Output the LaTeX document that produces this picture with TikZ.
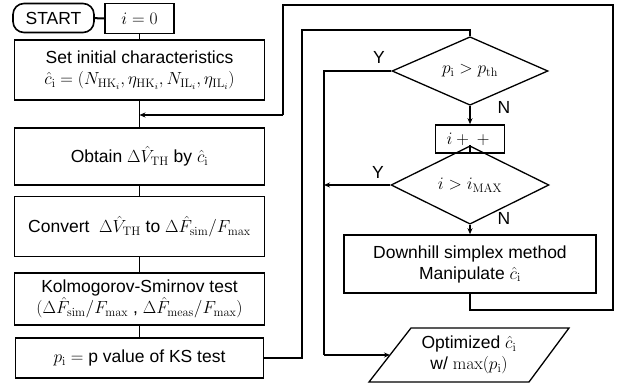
\documentclass[tikz,border=0pt]{standalone}
\usepackage{fix-cm}
\usepackage[no-math]{fontspec}
\setmainfont{Liberation Sans}
\usetikzlibrary{shapes.geometric,arrows.meta}

\tikzset{
  base/.style={draw, line width=1.6pt, inner sep=0pt, align=center,
    font=\fontsize{17.5}{21}\selectfont},
  procbox/.style={base, rectangle, minimum width=250pt},
  termbox/.style={base, rectangle, rounded corners=11pt},
  decision/.style={base, diamond, line width=1.3pt},
  iotext/.style={align=center, inner sep=0pt, font=\fontsize{17.5}{21}\selectfont},
  ioframe/.style={line width=1.3pt, line join=miter},
  link/.style={line width=1.3pt},
  flowarrow/.style={line width=1.3pt, -{Stealth[length=6pt,width=5pt]}},
  loopline/.style={line width=2.6pt, line join=miter},
  lbl/.style={font=\fontsize{17.5}{21}\selectfont, inner sep=0pt}
}

\begin{document}
\begin{tikzpicture}[x=1pt,y=-1pt]
  \useasboundingbox[fill=white] (0,0) rectangle (622,387);

  % left column
  \node[termbox, minimum width=81pt, minimum height=29pt] (start) at (53.5,18) {START};
  \node[base, minimum width=69pt, minimum height=30pt] (init) at (139.5,18.5) {$i = 0$};
  \node[procbox, minimum height=60pt] (set) at (139.5,70)
    {Set initial characteristics\\
     $\hat{c}_\mathrm{i} = (N_{\mathrm{HK}_i}, \eta_{\mathrm{HK}_i}, N_{\mathrm{IL}_i}, \eta_{\mathrm{IL}_i})$};
  \node[procbox, minimum height=57pt] (obtain) at (139.5,156.5)
    {Obtain $\Delta\hat{V}_\mathrm{TH}$ by $\hat{c}_\mathrm{i}$};
  \node[procbox, minimum height=60pt] (convert) at (139.5,226.5)
    {Convert \ $\Delta\hat{V}_\mathrm{TH}$ to $\Delta\hat{F}_\mathrm{sim}/F_\mathrm{max}$};
  \node[procbox, minimum height=52pt] (ks) at (139.5,299)
    {Kolmogorov-Smirnov test\\
     $(\Delta\hat{F}_\mathrm{sim}/F_\mathrm{max}$ , $\Delta\hat{F}_\mathrm{meas}/F_\mathrm{max})$};
  \node[procbox, minimum width=248pt, minimum height=40pt] (pval) at (139.5,358)
    {$p_\mathrm{i} =$ p value of KS test};

  % right column
  \node[decision, minimum width=156pt, minimum height=48pt] (d1) at (470,71)
    {$p_\mathrm{i} > p_\mathrm{th}$};
  \node[base, minimum width=69pt, minimum height=28pt] (inc) at (470,139)
    {$i + {} + {}$};
  \node[decision, minimum width=158pt, minimum height=46pt] (d2) at (470,185)
    {$i > i_\mathrm{MAX}$};
  \node[procbox, minimum width=252pt, minimum height=58pt] (dh) at (470,264)
    {Downhill simplex method\\ Manipulate $\hat{c}_\mathrm{i}$};

  % output parallelogram (shifts are in canvas points, y pointing up)
  \node[iotext] (out) at (469,355)
    {Optimized $\hat{c}_\mathrm{i}$\\ w/ $\max(p_\mathrm{i})$};
  \draw[ioframe] ([shift={(-100pt,-27pt)}]out.center) -- ([shift={(-58pt,27pt)}]out.center)
    -- ([shift={(100pt,27pt)}]out.center) -- ([shift={(60pt,-27pt)}]out.center) -- cycle;
  \coordinate (outin) at ([shift={(-79pt,0pt)}]out.center);

  % branch labels
  \node[lbl] (y1) at (379,57) {Y};
  \node[lbl] (n1) at (504,107) {N};
  \node[lbl] (y2) at (378,172) {Y};
  \node[lbl] (n2) at (504,218) {N};

  % corner points of the routed lines
  \coordinate (up) at (302,30);
  \coordinate (ya) at (324,71);
  \coordinate (yb) at (324,355);
  \coordinate (yc) at (324,185);
  \coordinate (ra) at (613,310);
  \coordinate (rb) at (283,5);
  \coordinate (rc) at (283,115);
  \coordinate (join) at (139.5,115);

  % main sequence
  \draw[line width=2pt] (start) -- (init);
  \draw[link] (init) -- (set);
  \draw[link] (set) -- (obtain);
  \draw[link] (obtain) -- (convert);
  \draw[link] (convert) -- (ks);
  \draw[link] (ks) -- (pval);

  % p value to first decision
  \draw[loopline] (pval.east) -| (up) -| (d1.north);

  % decisions
  \draw[flowarrow] (d1) -- (inc);
  \draw[link] (inc) -- (d2);
  \draw[flowarrow] (d2) -- (dh);
  \draw[loopline] (d1.west) -- (ya) -- (yb);
  \draw[flowarrow] (yb) -- (outin);
  \draw[flowarrow] (d2.west) -- (yc);

  % iteration loop back to the evaluation step
  \draw[loopline] (dh.south) |- (ra) |- (rb) -- (rc);
  \draw[line width=1.8pt, -{Stealth[length=6pt,width=5pt]}] (rc) -- (join);
\end{tikzpicture}
\end{document}
